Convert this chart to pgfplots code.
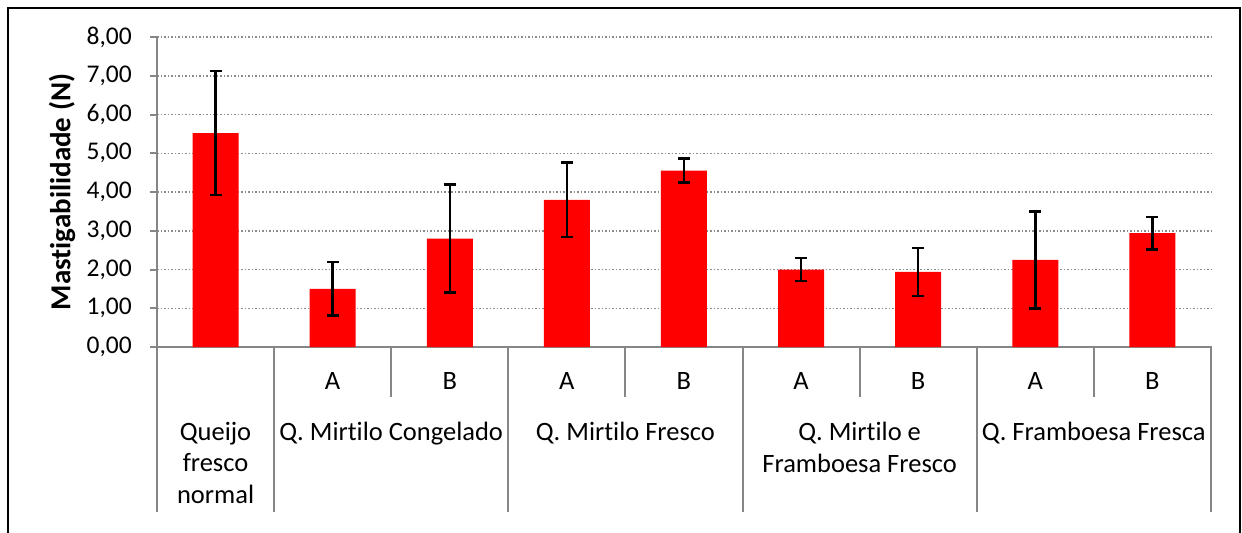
\documentclass[border=0pt]{standalone}
\usepackage{fontspec}
\setmainfont{Carlito}[Ligatures=NoCommon]
\usepackage{pgfplots}
\pgfplotsset{compat=1.18}
\usepackage{pgfplotstable}

\definecolor{axisgray}{RGB}{134,134,134}
\definecolor{gridgray}{RGB}{140,140,140}
\definecolor{barred}{RGB}{255,0,0}

% x, mean, standard deviation
\pgfplotstableread{
x  y     e
0  5.52  1.60
1  1.50  0.69
2  2.80  1.39
3  3.80  0.96
4  4.55  0.31
5  2.00  0.30
6  1.94  0.62
7  2.25  1.25
8  2.94  0.42
}\mastig

\begin{document}
\begin{tikzpicture}
\useasboundingbox (0,0) rectangle (1242bp,533bp);
\draw[line width=2.5bp] (8bp,0) -- (8bp,525bp) -- (1240bp,525bp) -- (1240bp,0);
\begin{axis}[
  at={(157bp,186bp)}, anchor=south west,
  scale only axis, width=1054bp, height=310bp,
  font=\fontsize{26.5bp}{31.5bp}\selectfont,
  xmin=-0.5, xmax=8.5, ymin=0, ymax=8,
  axis x line*=bottom, axis y line*=left,
  axis line style={axisgray, line width=2bp, -},
  clip=false,
  tick align=outside, major tick length=7bp,
  ytick={0,1,...,8},
  ytick style={axisgray, line width=2bp},
  yticklabel style={inner sep=0pt, xshift=-18bp, font=\fontsize{25.5bp}{30bp}\selectfont,
    /pgf/number format/.cd, use comma, fixed, fixed zerofill, precision=2, assume math mode=true},
  ymajorgrids,
  grid style={gridgray, line width=1.5bp, dash pattern=on 1.5bp off 2bp},
  xtick={0,...,8},
  xticklabels={,A,B,A,B,A,B,A,B},
  xtick style={draw=none},
  xticklabel style={anchor=center, inner sep=0pt, yshift=-27bp},
  ylabel={\bfseries Mastigabilidade (N)},
  ylabel style={at={(axis description cs:-0.09,0.5)}, anchor=center, font=\fontsize{29bp}{34bp}\selectfont},
]
\addplot[ybar, bar width=46bp, fill=barred, draw=none,
  error bars/.cd, y dir=both, y explicit,
  error bar style={black, line width=2.5bp},
  error mark options={black, line width=2.5bp, mark size=6bp, rotate=90}]
  table[x=x, y=y, y error=e] {\mastig};

% category separators
\pgfplotsinvokeforeach{-0.5,0.5,2.5,4.5,6.5,8.5}{
  \draw[axisgray, line width=2bp] (axis cs:#1,0) -- ++(0pt,-165bp);}
\pgfplotsinvokeforeach{1.5,3.5,5.5,7.5}{
  \draw[axisgray, line width=2bp] (axis cs:#1,0) -- ++(0pt,-50bp);}

% group labels
\node[anchor=north, align=center, inner sep=0pt] at ([yshift=-75bp]axis cs:0,0) {Queijo\\fresco\\normal};
\node[anchor=north, align=center, inner sep=0pt] at ([yshift=-75bp]axis cs:1.5,0) {Q. Mirtilo Congelado};
\node[anchor=north, align=center, inner sep=0pt] at ([yshift=-75bp]axis cs:3.5,0) {Q. Mirtilo Fresco};
\node[anchor=north, align=center, inner sep=0pt] at ([yshift=-75bp]axis cs:5.5,0) {Q. Mirtilo e\\Framboesa Fresco};
\node[anchor=north, align=center, inner sep=0pt] at ([yshift=-75bp]axis cs:7.5,0) {Q. Framboesa Fresca};
\end{axis}
\end{tikzpicture}
\end{document}
